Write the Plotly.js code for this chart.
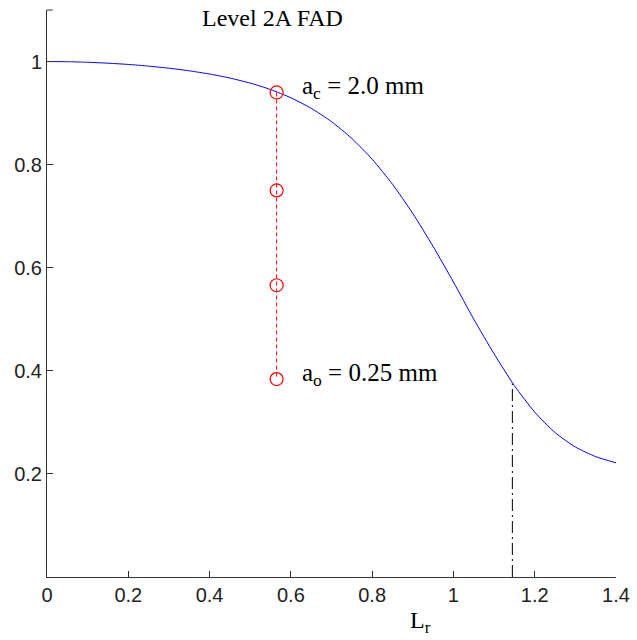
<!DOCTYPE html>
<html><head><meta charset="utf-8">
<script src="https://cdn.plot.ly/plotly-3.0.1.min.js"></script>
<style>html,body{margin:0;padding:0;background:#fff}#chart{width:637px;height:640px}</style>
</head><body><div id="chart"></div>
<script>
// FAD curve (Level 2A)
const fadLr = [0,0.05,0.1,0.15,0.2,0.25,0.3,0.35,0.4,0.45,0.5,0.55,0.6,0.65,0.7,0.75,0.8,0.85,0.9,0.95,1.0,1.05,1.1,1.15,1.2,1.25,1.3,1.35,1.4];
const fadKr = [1.0,0.9997,0.9986,0.9968,0.9944,0.9911,0.9871,0.982,0.9758,0.968,0.9582,0.9457,0.9297,0.9093,0.8834,0.8508,0.8106,0.762,0.7053,0.6413,0.5723,0.5002,0.433,0.3713,0.3198,0.2802,0.2522,0.2336,0.2215];
// assessment points
const ptLr = [0.565,0.565,0.565,0.565];
const ptKr = [0.94,0.75,0.566,0.384];
// cut-off line
const cutLr = [1.145,1.145];
const cutKr = [0,0.375];
const xTicks = [0,0.2,0.4,0.6,0.8,1,1.2,1.4];
const yTicks = [0.2,0.4,0.6,0.8,1];

const serif = "Liberation Serif, Times New Roman, serif";
const sans = "Liberation Sans, Arial, sans-serif";

const traces = [
  {x: fadLr, y: fadKr, mode:'lines', line:{color:'#0000ff', width:1, shape:'spline', smoothing:0.6}, hoverinfo:'skip'},
  {x: ptLr, y: ptKr, mode:'lines+markers', line:{color:'#ff0000', width:1, dash:'4px,3px'},
   marker:{symbol:'circle-open', size:13, color:'#ff0000', line:{width:1.2}}},
  {x: cutLr, y: cutKr, mode:'lines', line:{color:'#000000', width:1, dash:'12px,4px,2px,4px'}}
];

const layout = {
  width:637, height:640,
  margin:{l:47, r:21, t:10, b:63},
  paper_bgcolor:'#fff', plot_bgcolor:'#fff',
  showlegend:false,
  xaxis:{range:[0,1.4], tickvals:xTicks, ticktext:xTicks.map(String), ticks:'inside', ticklen:6,
    tickcolor:'#333', showline:true, linecolor:'#333', linewidth:1, showgrid:false, zeroline:false,
    tickfont:{family:sans, size:20, color:'#222'}},
  yaxis:{range:[0,1.1], tickvals:yTicks, ticktext:yTicks.map(String), ticks:'inside', ticklen:6,
    tickcolor:'#333', showline:true, linecolor:'#333', linewidth:1, showgrid:false, zeroline:false,
    tickfont:{family:sans, size:20, color:'#222'}},
  shapes:[
    {type:'line', xref:'paper', yref:'paper', x0:0, x1:0.01, y0:1, y1:1, line:{color:'#333', width:1}}
  ],
  annotations:[
    {text:'Level 2A FAD', x:0.554, y:1.084, xref:'x', yref:'y', showarrow:false,
      font:{family:serif, size:24, color:'#000'}},
    {text:'a<sub>c</sub> = 2.0 mm', x:0.623, y:0.95, xref:'x', yref:'y', xanchor:'left', showarrow:false,
      font:{family:serif, size:25, color:'#000'}},
    {text:'a<sub>o</sub> = 0.25 mm', x:0.623, y:0.392, xref:'x', yref:'y', xanchor:'left', showarrow:false,
      font:{family:serif, size:25, color:'#000'}},
    {text:'L<sub>r</sub>', x:0.92, y:-0.05, xref:'x', yref:'paper', showarrow:false, yanchor:'top',
      font:{family:serif, size:24, color:'#000'}}
  ]
};
Plotly.newPlot('chart', traces, layout, {displayModeBar:false, staticPlot:true});
</script></body></html>
